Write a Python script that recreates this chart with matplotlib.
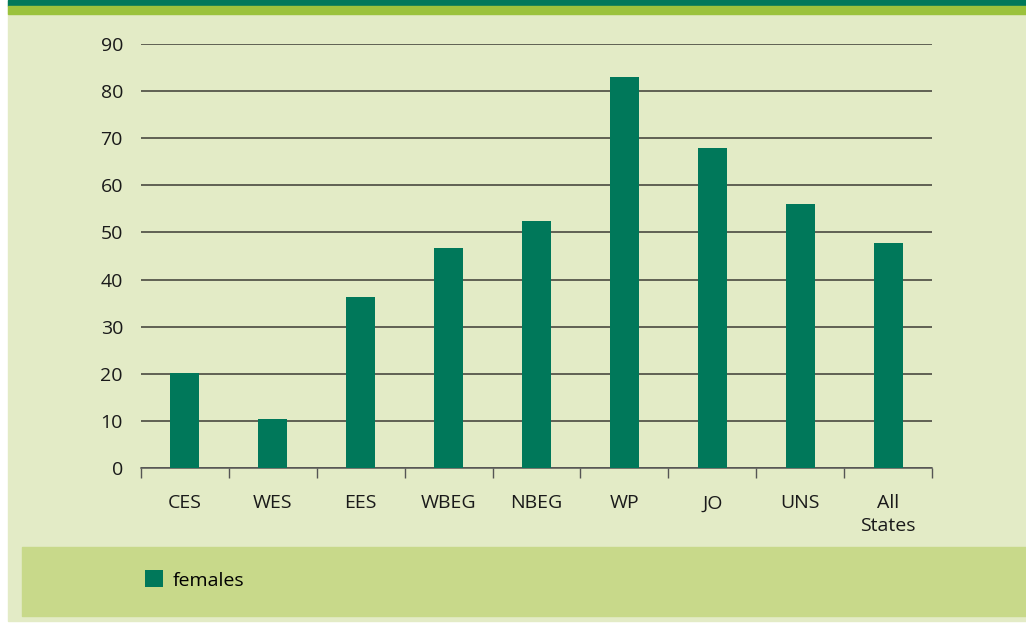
import matplotlib.pyplot as plt
from matplotlib.patches import Rectangle

# data
categories = ['CES', 'WES', 'EES', 'WBEG', 'NBEG', 'WP', 'JO', 'UNS', 'All\nStates']
females = [20.2, 10.4, 36.3, 46.7, 52.4, 83.0, 67.9, 56.0, 47.8]
yticks = [0, 10, 20, 30, 40, 50, 60, 70, 80, 90]

BAR = '#00785a'
BG = '#e3ebc6'
BAND = '#c8d98a'

plt.rcParams['font.family'] = ['Open Sans', 'DejaVu Sans']

W, H = 1026, 623
fig = plt.figure(figsize=(W / 100, H / 100), dpi=100, facecolor='white')

# page decoration (pixel boxes -> figure fractions)
def px_rect(x0, y0, x1, y1, color):
    fig.patches.append(Rectangle((x0 / W, 1 - y1 / H), (x1 - x0) / W, (y1 - y0) / H,
                                 transform=fig.transFigure, color=color, zorder=-5))

px_rect(8, 0, W, 621, BG)
px_rect(8, 0, W, 6, '#00785a')
px_rect(8, 6, W, 14, '#9bc23c')
px_rect(22, 547, W, 616, BAND)

ax = fig.add_axes([141 / W, 1 - 468 / H, (932 - 141) / W, (468 - 44) / H])
ax.set_facecolor('none')
ax.set_zorder(2)

x = list(range(len(categories)))
bars = ax.bar(x, females, width=0.33, color=BAR, zorder=3, label='females')

ax.set_xlim(-0.5, len(categories) - 0.5)
ax.set_ylim(0, 90)
ax.set_yticks(yticks)
ax.yaxis.grid(True, color='#3c3c34', linewidth=1.1, zorder=1)
ax.set_axisbelow(True)

# category labels between the boundary ticks
ax.set_xticks([i - 0.5 for i in range(len(categories) + 1)])
ax.set_xticklabels([])
ax.set_xticks(x, minor=True)
ax.set_xticklabels(categories, minor=True, fontsize=14, color='#1a1a1a', linespacing=1.3)
ax.tick_params(axis='x', which='major', length=7, width=1, color='#555555', direction='out')
ax.tick_params(axis='x', which='minor', length=0, pad=19)
ax.tick_params(axis='y', length=0, pad=13, labelsize=14, labelcolor='#1a1a1a')

for s in ['top', 'right', 'left']:
    ax.spines[s].set_visible(False)
ax.spines['bottom'].set_color('#555555')
ax.spines['bottom'].set_linewidth(1.1)

leg = fig.legend(handles=[bars], labels=['females'], loc='center left',
                 bbox_to_anchor=(145 / W, 1 - 580 / H), frameon=False, fontsize=14,
                 handlelength=0.95, handleheight=0.95, handletextpad=0.5, borderpad=0,
                 borderaxespad=0)
leg.set_zorder(3)

plt.savefig('out.png', dpi=100, facecolor='white')
